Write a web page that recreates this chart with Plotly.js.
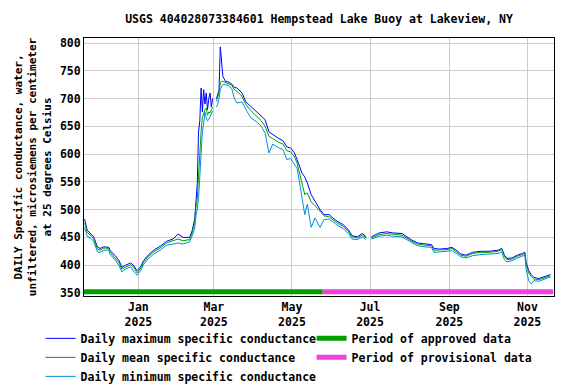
<!DOCTYPE html>
<html>
<head>
<meta charset="utf-8">
<script src="https://cdn.plot.ly/plotly-3.0.1.min.js"></script>
<style>html,body{margin:0;padding:0;background:#fff;}#chart{width:576px;height:384px;}</style>
</head>
<body>
<div id="chart"></div>
<script>
// Daily values (microsiemens per cm at 25 C)
const dates = [
"2024-11-20","2024-11-22","2024-11-25","2024-11-27","2024-11-30","2024-12-02","2024-12-05","2024-12-09","2024-12-10","2024-12-14",
"2024-12-17","2024-12-19","2024-12-22","2024-12-26","2024-12-28","2024-12-31","2025-01-03","2025-01-05","2025-01-09","2025-01-13",
"2025-01-18","2025-01-23","2025-01-28","2025-02-01","2025-02-05","2025-02-10","2025-02-12","2025-02-14","2025-02-15","2025-02-16",
"2025-02-17","2025-02-18","2025-02-19","2025-02-20","2025-02-21","2025-02-22","2025-02-23","2025-02-24","2025-02-25","2025-02-26",
"2025-02-27","2025-02-28","2025-03-01","2025-03-03","2025-03-04","2025-03-05","2025-03-06","2025-03-07","2025-03-08","2025-03-10",
"2025-03-12","2025-03-15","2025-03-17","2025-03-19","2025-03-23","2025-03-26","2025-03-30","2025-04-04","2025-04-07","2025-04-10",
"2025-04-13","2025-04-16","2025-04-20","2025-04-24","2025-04-27","2025-04-30","2025-05-03","2025-05-05","2025-05-07","2025-05-09",
"2025-05-11","2025-05-13","2025-05-16","2025-05-19","2025-05-23","2025-05-26","2025-05-30","2025-06-02","2025-06-06","2025-06-10",
"2025-06-14","2025-06-17","2025-06-21","2025-06-25","2025-06-28","2025-06-30","2025-07-02","2025-07-08","2025-07-14","2025-07-19",
"2025-07-26","2025-08-02","2025-08-07","2025-08-13","2025-08-18","2025-08-20","2025-08-24","2025-08-30","2025-09-03","2025-09-07",
"2025-09-10","2025-09-14","2025-09-19","2025-09-25","2025-10-02","2025-10-09","2025-10-12","2025-10-14","2025-10-16","2025-10-20",
"2025-10-24","2025-10-28","2025-10-30","2025-10-31","2025-11-02","2025-11-04","2025-11-06","2025-11-10","2025-11-14","2025-11-18",
"2025-11-19"
];
const dailyMax = [
483,463,456,451,433,430,433,432,426,417,
408,396,400,404,400,390,398,408,419,427,
434,443,447,456,450,450,462,483,515,545,
640,660,719,676,716,690,710,680,700,710,
685,700,null,700,707,715,793,760,740,731,
730,726,720,719,710,694,685,674,668,662,
640,635,629,624,613,611,602,590,577,565,
559,548,527,515,500,491,491,485,478,473,
464,453,451,457,451,null,451,458,460,458,
457,446,440,438,437,430,429,430,432,426,
420,418,423,425,425,427,430,418,412,413,
418,421,423,405,390,383,378,376,379,383,
383
];
const dailyMean = [
476,459,453,448,429,427,431,430,423,413,
404,393,397,401,397,386,395,405,416,424,
431,440,444,447,444,446,458,476,505,518,
560,604,640,666,675,680,683,670,676,674,
680,685,null,695,702,710,728,731,731,729,
728,724,716,713,704,689,678,666,660,650,
632,628,622,618,606,604,595,584,566,545,
527,530,514,507,497,489,487,482,475,470,
461,451,449,454,449,null,449,455,457,456,
454,444,438,436,435,427,427,428,430,424,
418,416,421,423,423,425,428,416,410,411,
416,419,421,401,386,379,375,374,377,381,
381
];
const dailyMin = [
468,452,448,443,424,423,427,427,419,409,
399,388,393,397,390,382,391,401,412,420,
427,436,438,440,438,442,453,466,490,500,
520,560,600,640,655,676,665,660,662,667,
670,678,null,685,690,700,716,722,725,725,
724,718,700,692,694,680,665,657,650,638,
602,618,612,608,590,592,582,574,548,520,
491,510,468,485,468,482,483,478,471,466,
457,447,446,451,446,null,447,452,454,452,
451,441,435,433,432,423,424,425,426,420,
415,413,417,419,420,421,424,410,406,408,
413,416,418,392,372,366,372,371,374,378,
379
];
// Data-approval periods
const approvedDates = ["2024-11-19","2025-05-25"];
const provisionalDates = ["2025-05-25","2025-11-21"];
const approvalLevel = [352.3, 352.3];
const tickDates = ["2025-01-01","2025-03-01","2025-05-01","2025-07-01","2025-09-01","2025-11-01"];
const tickText = ["Jan<br>2025","Mar<br>2025","May<br>2025","Jul<br>2025","Sep<br>2025","Nov<br>2025"];

const FONT = "DejaVu Sans Mono, Liberation Mono, monospace";

const traces = [
  {x: approvedDates, y: approvalLevel, type:"scatter", mode:"lines", name:"Period of approved data",
   line:{color:"#00a000", width:5}, legendrank:2, hoverinfo:"skip"},
  {x: provisionalDates, y: approvalLevel, type:"scatter", mode:"lines", name:"Period of provisional data",
   line:{color:"#f040e0", width:5}, legendrank:4, hoverinfo:"skip"},
  {x: dates, y: dailyMax, type:"scatter", mode:"lines", name:"Daily maximum specific conductance",
   line:{color:"#0000ff", width:1}, connectgaps:false, legendrank:1},
  {x: dates, y: dailyMean, type:"scatter", mode:"lines", name:"Daily mean specific conductance",
   line:{color:"#00a000", width:1}, connectgaps:false, legendrank:3},
  {x: dates, y: dailyMin, type:"scatter", mode:"lines", name:"Daily minimum specific conductance",
   line:{color:"#0090d8", width:1}, connectgaps:false, legendrank:5}
];

const layout = {
  width:576, height:384,
  margin:{l:84, r:22, t:38, b:88, autoexpand:false},
  paper_bgcolor:"#ffffff", plot_bgcolor:"#ffffff",
  font:{family:FONT, size:11.5, color:"#000", weight:"bold"},
  title:{text:"USGS 404028073384601 Hempstead Lake Buoy at Lakeview, NY",
         font:{family:FONT, size:11.5, color:"#000", weight:"bold"},
         x:0.5, xref:"paper", xanchor:"center", y:0.95, yref:"container", yanchor:"middle"},
  showlegend:true,
  legend:{orientation:"h", x:-0.0924, xanchor:"left", y:-0.108, yanchor:"top",
          entrywidth:226, entrywidthmode:"pixels", traceorder:"normal",
          font:{family:FONT, size:11.5, color:"#000", weight:"bold"},
          bgcolor:"rgba(0,0,0,0)", borderwidth:0, tracegroupgap:0},
  xaxis:{type:"date", range:["2024-11-19 12:00","2025-11-21 18:00"],
         tickmode:"array", tickvals:tickDates, ticktext:tickText,
         showgrid:true, gridcolor:"#cccccc", gridwidth:1,
         showline:true, linecolor:"#000", linewidth:1, mirror:true,
         ticks:"", zeroline:false, tickangle:0,
         tickfont:{family:FONT, size:11.5, color:"#000", weight:"bold"}},
  yaxis:{range:[344.5, 809], tickmode:"array",
         tickvals:[350,400,450,500,550,600,650,700,750,800],
         showgrid:true, gridcolor:"#cccccc", gridwidth:1,
         showline:true, linecolor:"#000", linewidth:1, mirror:true,
         ticks:"", zeroline:false,
         tickfont:{family:FONT, size:11.5, color:"#000", weight:"bold"},
         title:{text:"DAILY Specific conductance, water,<br>unfiltered, microsiemens per centimeter<br>at 25 degrees Celsius",
                font:{family:FONT, size:11, color:"#000", weight:"bold"}, standoff:6}}
};

Plotly.newPlot("chart", traces, layout, {displayModeBar:false, staticPlot:true});
</script>
</body>
</html>
